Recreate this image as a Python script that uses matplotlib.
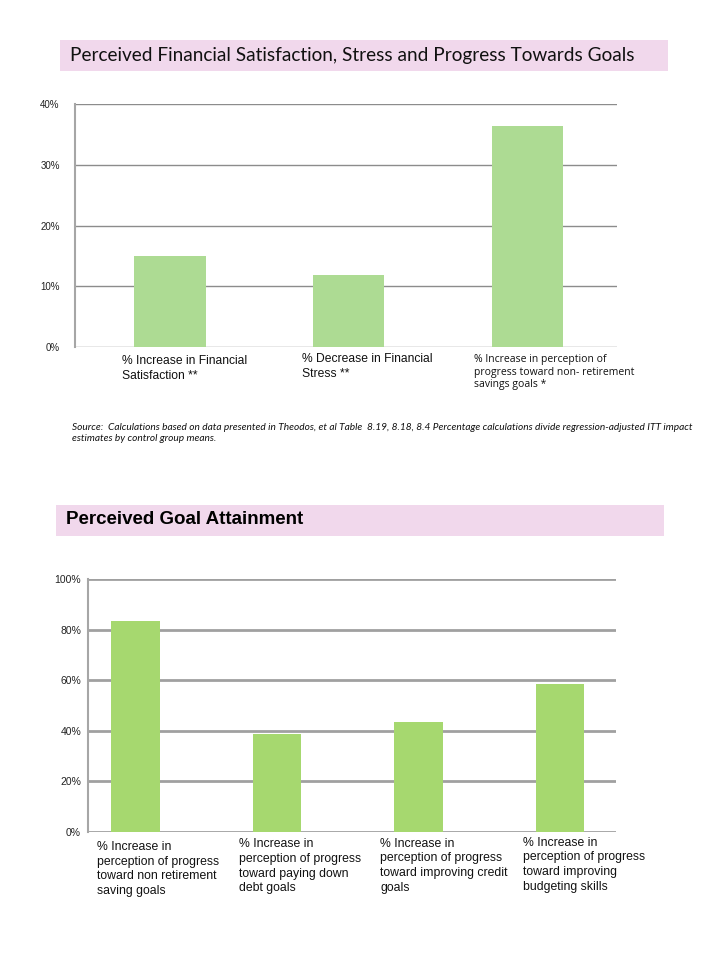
import matplotlib
matplotlib.use("Agg")
import matplotlib.pyplot as plt
from matplotlib.patches import Rectangle
from matplotlib.transforms import blended_transform_factory

# ---- data ----
title1 = "Perceived Financial Satisfaction, Stress and Progress Towards Goals"
cats1 = ["% Increase in Financial\nSatisfaction **",
         "% Decrease in Financial\nStress **",
         "% Increase in perception of\nprogress toward non- retirement\nsavings goals *"]
vals1 = [15.0, 11.8, 36.3]
yticks1 = [0, 10, 20, 30, 40]
ylabels1 = ["0%", "10%", "20%", "30%", "40%"]

source_text = ("Source:  Calculations based on data presented in Theodos, et al Table  8.19, 8.18, 8.4 "
               "Percentage calculations divide regression-adjusted ITT impact\n"
               "estimates by control group means.")

title2 = "Perceived Goal Attainment"
cats2 = ["% Increase in\nperception of progress\ntoward non retirement\nsaving goals",
         "% Increase in\nperception of progress\ntoward paying down\ndebt goals",
         "% Increase in\nperception of progress\ntoward improving credit\ngoals",
         "% Increase in\nperception of progress\ntoward improving\nbudgeting skills"]
vals2 = [83.3, 38.6, 43.3, 58.6]
yticks2 = [0, 20, 40, 60, 80, 100]
ylabels2 = ["0%", "20%", "40%", "60%", "80%", "100%"]

W, H = 720, 960
fig = plt.figure(figsize=(W / 100, H / 100), dpi=100)
fig.patch.set_facecolor("white")

def fx(px):
    return px / W

def fy(py):
    return 1 - py / H

pink = "#F1D8EC"

# ---- title box 1 ----
fig.patches.append(Rectangle((fx(60), fy(71)), fx(608), 31 / H, transform=fig.transFigure,
                             facecolor=pink, edgecolor="none", zorder=0))
fig.text(fx(70), fy(56), title1, fontsize=13.7, family="Lato", color="#111111",
         ha="left", va="center")

# ---- chart 1 ----
ax1 = fig.add_axes([fx(75), fy(347), fx(617) - fx(75), (347 - 104) / H])
x1 = list(range(len(cats1)))
ax1.bar(x1, vals1, width=0.40, color="#ADDB93", zorder=2)
ax1.set_xlim(-0.53, 2.50)
ax1.set_ylim(0, 40)
ax1.set_yticks(yticks1)
ax1.set_yticklabels(ylabels1)
ax1.yaxis.grid(True, color="#8C8C8C", linewidth=1.0, zorder=1)
ax1.set_axisbelow(True)
ax1.set_xticks([])
for s in ["top", "right", "bottom"]:
    ax1.spines[s].set_visible(False)
ax1.spines["left"].set_color("#A6A6A6")
ax1.spines["left"].set_linewidth(1.5)
ax1.tick_params(axis="y", length=0, pad=11, labelsize=7, labelcolor="#222222")
for lab in ax1.get_yticklabels():
    lab.set_family("Liberation Sans")
tr1 = blended_transform_factory(ax1.transData, ax1.transAxes)
offs1 = [-0.27, -0.26, -0.30]
tops1 = [-0.034, -0.024, -0.030]
for i, c in enumerate(cats1):
    if i == 2:
        ax1.text(i + offs1[i], tops1[i], c, transform=tr1, ha="left", va="top",
                 fontsize=7.5, family="Open Sans", color="#111111", linespacing=1.2)
    else:
        ax1.text(i + offs1[i], tops1[i], c, transform=tr1, ha="left", va="top",
                 fontsize=8.7, family="Liberation Sans", color="#111111", linespacing=1.3)

# ---- source ----
fig.text(fx(72), fy(423), source_text, fontsize=7.3, family="Lato", style="italic",
         color="#111111", ha="left", va="top", linespacing=1.35)

# ---- title box 2 ----
fig.patches.append(Rectangle((fx(56), fy(536)), fx(608), 31 / H, transform=fig.transFigure,
                             facecolor=pink, edgecolor="none", zorder=0))
fig.text(fx(66), fy(520), title2, fontsize=13.5, family="Liberation Sans", weight="bold",
         color="#000000", ha="left", va="center")

# ---- chart 2 ----
ax2 = fig.add_axes([fx(88), fy(832), fx(616) - fx(88), (832 - 579) / H])
x2 = list(range(len(cats2)))
ax2.bar(x2, vals2, width=0.34, color="#A6D86F", zorder=2)
ax2.set_xlim(-0.336, 3.396)
ax2.set_ylim(0, 100)
ax2.set_yticks(yticks2)
ax2.set_yticklabels(ylabels2)
ax2.yaxis.grid(True, color="#A0A0A0", linewidth=2.0, zorder=1)
ax2.set_axisbelow(True)
ax2.set_xticks([])
for s in ["top", "right", "bottom"]:
    ax2.spines[s].set_visible(False)
ax2.spines["left"].set_color("#A6A6A6")
ax2.spines["left"].set_linewidth(1.5)
ax2.tick_params(axis="y", length=0, pad=5, labelsize=7.5, labelcolor="#222222")
for lab in ax2.get_yticklabels():
    lab.set_family("Liberation Sans")
tr2 = blended_transform_factory(ax2.transData, ax2.transAxes)
offs2 = [-0.27, -0.27, -0.27, -0.26]
tops2 = [-0.035, -0.025, -0.022, -0.018]
for i, c in enumerate(cats2):
    ax2.text(i + offs2[i], tops2[i], c, transform=tr2, ha="left", va="top",
             fontsize=8.8, family="Liberation Sans", color="#111111", linespacing=1.3)

fig.savefig("out.png", dpi=100, facecolor="white")
